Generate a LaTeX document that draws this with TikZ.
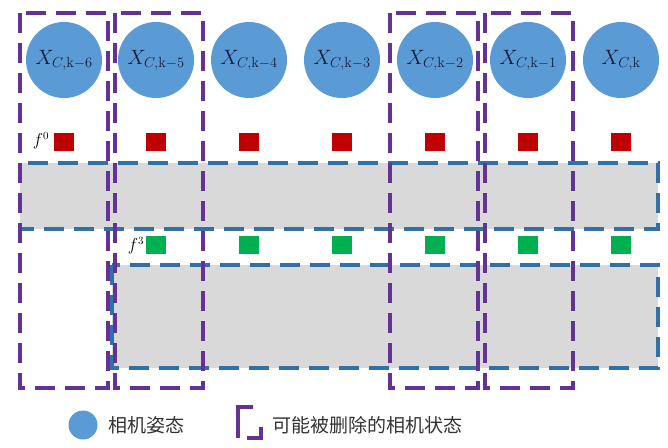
\documentclass[tikz,border=0pt]{standalone}
\usepackage{fontspec}
\newfontfamily\cjk{Noto Sans CJK SC}
\definecolor{pblue}{RGB}{91,155,213}
\definecolor{bandfill}{RGB}{217,217,217}
\definecolor{bandline}{RGB}{52,112,168}
\definecolor{ppl}{RGB}{100,50,150}
\definecolor{fred}{RGB}{192,0,0}
\definecolor{fgreen}{RGB}{0,176,80}
\definecolor{txt}{RGB}{20,30,60}
\tikzset{
  pose/.style={circle,fill=pblue,minimum size=76pt,inner sep=0pt,text=txt,font=\fontsize{21}{24}\selectfont},
  feat/.style={rectangle,minimum width=20pt,minimum height=18pt,inner sep=0pt},
  band/.style={fill=bandfill,draw=bandline,line width=3.3pt,dash pattern=on 20pt off 10pt},
  delbox/.style={draw=ppl,line width=3.3pt,dash pattern=on 20pt off 10pt},
  flabel/.style={font=\fontsize{16}{19}\selectfont,inner sep=0pt},
  legtext/.style={font=\cjk\fontsize{19}{22}\selectfont,anchor=west,inner sep=0pt,text=black!80}
}
\begin{document}
\begin{tikzpicture}[x=1pt,y=-1pt]
\useasboundingbox (0,0) rectangle (668,447);
% gray bands
\draw[band] (20,163) rectangle (658,229);
\draw[band] (112,265) rectangle (658,368);
% deletable boxes
\draw[delbox] (20,13) rectangle (108,388);
\draw[delbox] (115,13) rectangle (203,388);
\draw[delbox] (390,13) rectangle (478,388);
\draw[delbox] (485,13) rectangle (573,388);
% poses
\node[pose] (c6) at (64,60) {$X_{C,\mathrm{k}-6}$};
\node[pose] (c5) at (156,60) {$X_{C,\mathrm{k}-5}$};
\node[pose] (c4) at (249,60) {$X_{C,\mathrm{k}-4}$};
\node[pose] (c3) at (342,60) {$X_{C,\mathrm{k}-3}$};
\node[pose] (c2) at (435,60) {$X_{C,\mathrm{k}-2}$};
\node[pose] (c1) at (528,60) {$X_{C,\mathrm{k}-1}$};
\node[pose] (c0) at (621,60) {$X_{C,\mathrm{k}}$};
% red features
\foreach \x/\n in {64/6,156/5,249/4,342/3,435/2,528/1,621/0}
  \node[feat,fill=fred] (r\n) at (\x,141.5) {};
\node[flabel] (f0) at (41,141) {$f^0$};
% green features
\foreach \x/\n in {156/5,249/4,342/3,435/2,528/1,621/0}
  \node[feat,fill=fgreen] (g\n) at (\x,245) {};
\node[flabel] (f3) at (136,246) {$f^3$};
% legend
\node[circle,fill=pblue,minimum size=29pt,inner sep=0pt] (lc) at (83,425) {};
\node[legtext] (lt1) at (108,425) {相机姿态};
\draw[ppl,line width=3.3pt] (253,407) -- (238,407) -- (238,438);
\draw[ppl,line width=3.3pt] (247,438) -- (261,438) -- (261,427);
\node[legtext] (lt2) at (272,425) {可能被删除的相机状态};
\end{tikzpicture}
\end{document}
